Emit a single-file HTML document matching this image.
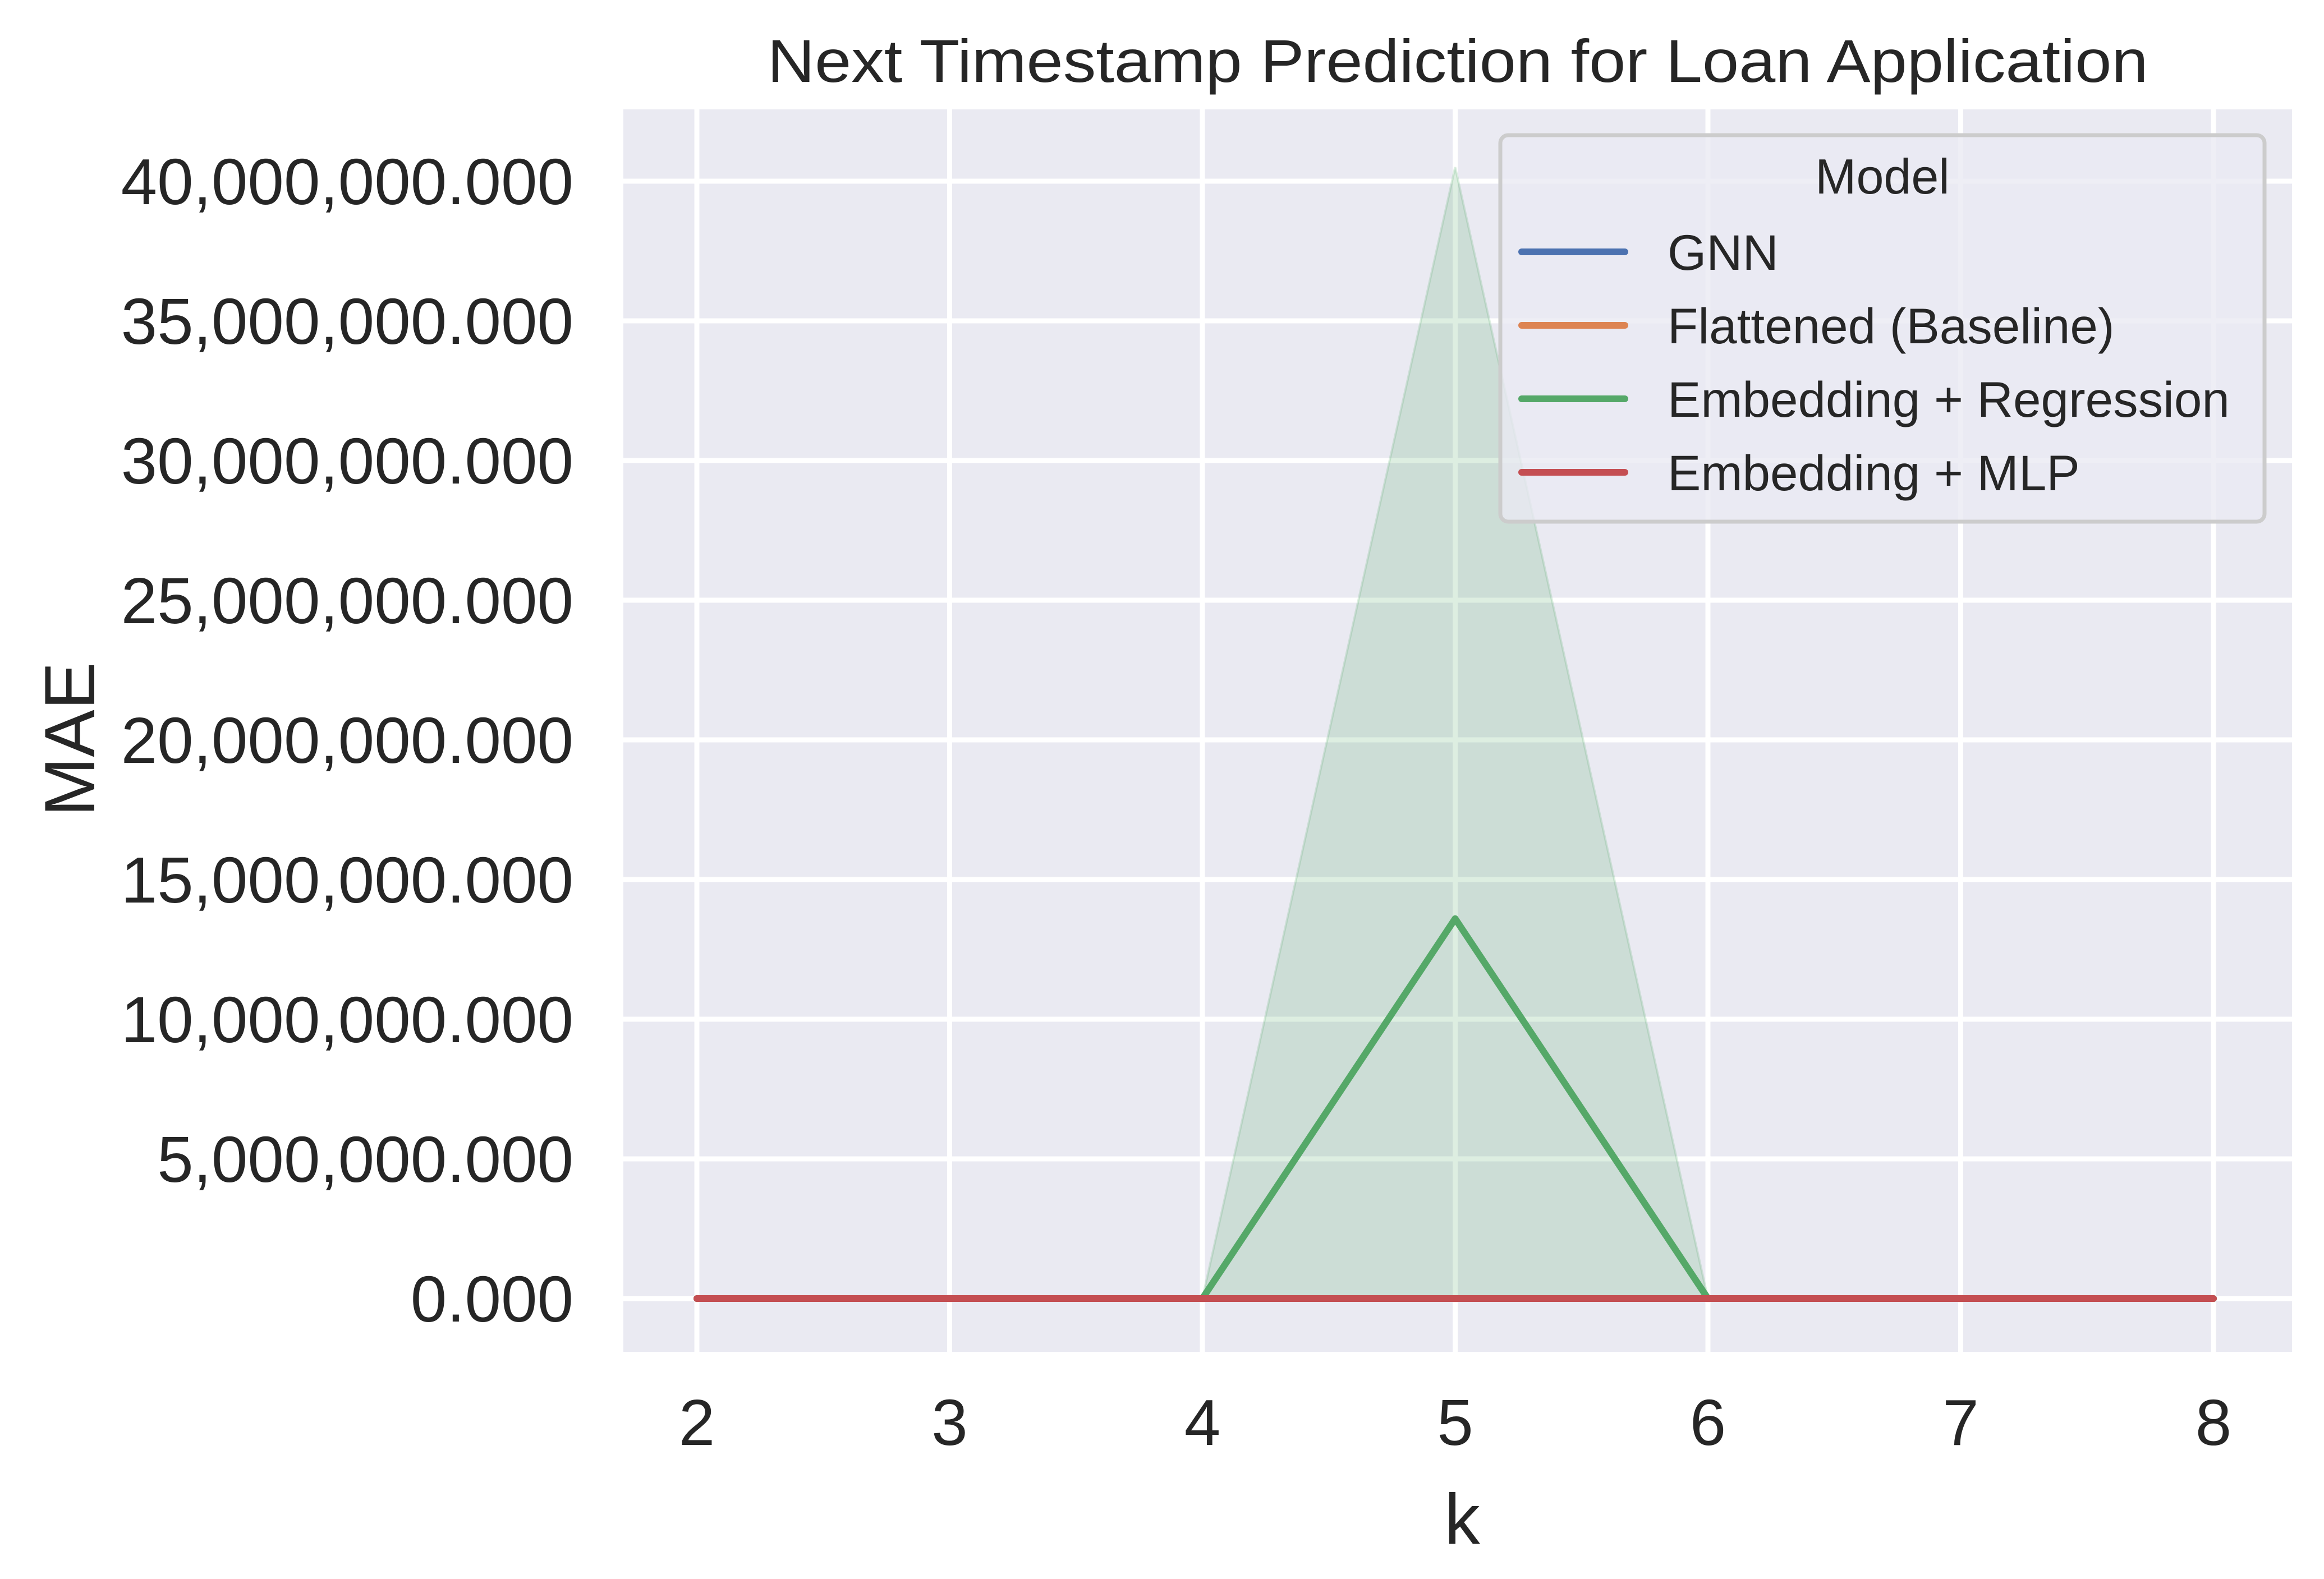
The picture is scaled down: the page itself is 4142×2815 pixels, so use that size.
<!DOCTYPE html>
<html><head><meta charset="utf-8">
<style>
html,body{margin:0;padding:0;background:#fff;}
svg{display:block;font-family:"Liberation Sans",Arial,sans-serif;}
</style></head>
<body>
<svg id="chart" width="4142" height="2815" viewBox="0 0 4142 2815">
  <rect x="0" y="0" width="4142" height="2815" fill="#ffffff"/>
  <rect x="1111" y="195" width="2974" height="2215" fill="#eaeaf2"/>
  <g id="grid"></g>
  <g id="series"></g>
  <g id="yticks"></g>
  <g id="xticks"></g>
  <text x="2598" y="146" font-size="108" fill="#262626" text-anchor="middle" textLength="2461" lengthAdjust="spacingAndGlyphs">Next Timestamp Prediction for Loan Application</text>
  <text x="2606" y="2752" font-size="127" fill="#262626" text-anchor="middle">k</text>
  <text transform="translate(168,1318) rotate(-90)" font-size="127" fill="#262626" text-anchor="middle">MAE</text>
  <g id="legend">
    <rect x="2674" y="241" width="1362" height="689" rx="14" fill="#eaeaf2" fill-opacity="0.8" stroke="#cccccc" stroke-width="7"/>
    <text x="3355" y="345" font-size="88" fill="#262626" text-anchor="middle">Model</text>
  </g>
</svg>
<script>
const categories = [2, 3, 4, 5, 6, 7, 8];
const seriesNames = ["GNN", "Flattened (Baseline)", "Embedding + Regression", "Embedding + MLP"];
const seriesColors = ["#4c72b0", "#dd8452", "#55a868", "#c44e52"];
const gnnValues = [0, 0, 0, 0, 0, 0, 0];
const flattenedValues = [0, 0, 0, 0, 0, 0, 0];
const regressionValues = [0, 0, 0, 13.6e6, 0, 0, 0];
const regressionUpper = [0, 0, 0, 40.5e6, 0, 0, 0];
const regressionLower = [0, 0, 0, 0, 0, 0, 0];
const mlpValues = [0, 0, 0, 0, 0, 0, 0];
const yTicks = [0, 5e6, 10e6, 15e6, 20e6, 25e6, 30e6, 35e6, 40e6];
const yTickLabels = ["0.000","5,000,000.000","10,000,000.000","15,000,000.000","20,000,000.000","25,000,000.000","30,000,000.000","35,000,000.000","40,000,000.000"];
const xTickLabels = ["2","3","4","5","6","7","8"];

const NS = "http://www.w3.org/2000/svg";
const PL = 1111, PR = 4085, PT = 195, PB = 2410;
function xScale(k){ return 1242 + (k - 2) * 450.5; }
function yScale(v){ return 2315 - v / 1e6 * 49.8; }
function mk(tag, attrs, parent){
  const el = document.createElementNS(NS, tag);
  for (const k in attrs) el.setAttribute(k, attrs[k]);
  parent.appendChild(el);
  return el;
}
const grid = document.getElementById('grid');
yTicks.forEach(function(v){
  const l = mk('line', {x1: PL, x2: PR, y1: yScale(v), y2: yScale(v), stroke: '#ffffff', 'stroke-width': 9}, grid);
  
  
});
categories.forEach(function(k){
  const l = mk('line', {x1: xScale(k), x2: xScale(k), y1: PT, y2: PB, stroke: '#ffffff', 'stroke-width': 9}, grid);
  
  
});
const yt = document.getElementById('yticks');
yTicks.forEach(function(v, i){
  const t = mk('text', {x: 1022, y: yScale(v) + 41, 'font-size': 116, fill: '#262626', 'text-anchor': 'end'}, yt);
  t.textContent = yTickLabels[i];
  
  
});
const xt = document.getElementById('xticks');
categories.forEach(function(k, i){
  const t = mk('text', {x: xScale(k), y: 2576, 'font-size': 116, fill: '#262626', 'text-anchor': 'middle'}, xt);
  t.textContent = xTickLabels[i];
  
  
});
const sg = document.getElementById('series');
let bandPts = categories.map(function(k, i){ return xScale(k) + ',' + yScale(regressionUpper[i]); });
for (let i = categories.length - 1; i >= 0; i--) bandPts.push(xScale(categories[i]) + ',' + yScale(regressionLower[i]));
const band = mk('polygon', {points: bandPts.join(' '), fill: '#55a868', 'fill-opacity': 0.2, stroke: '#55a868', 'stroke-opacity': 0.2, 'stroke-width': 4}, sg);


const allSeries = [gnnValues, flattenedValues, regressionValues, mlpValues];
const seriesKeys = ['gnn-line', 'flattened-line', 'regression-line', 'mlp-line'];
allSeries.forEach(function(vals, s){
  const pts = categories.map(function(k, i){ return xScale(k) + ',' + yScale(vals[i]); }).join(' ');
  const pl = mk('polyline', {points: pts, fill: 'none', stroke: seriesColors[s], 'stroke-width': 12, 'stroke-linecap': 'round', 'stroke-linejoin': 'round'}, sg);
  
  
});
const lg = document.getElementById('legend');
const legendY = [449, 580, 711, 842];
seriesNames.forEach(function(name, i){
  const g = mk('g', {}, lg);
  
  
  const l = mk('line', {x1: 2712, x2: 2896, y1: legendY[i], y2: legendY[i], stroke: seriesColors[i], 'stroke-width': 12, 'stroke-linecap': 'round'}, g);
  
  
  const t = mk('text', {x: 2972, y: legendY[i] + 32, 'font-size': 89, fill: '#262626'}, g);
  t.textContent = name;
  
  
});
</script>
</body></html>
